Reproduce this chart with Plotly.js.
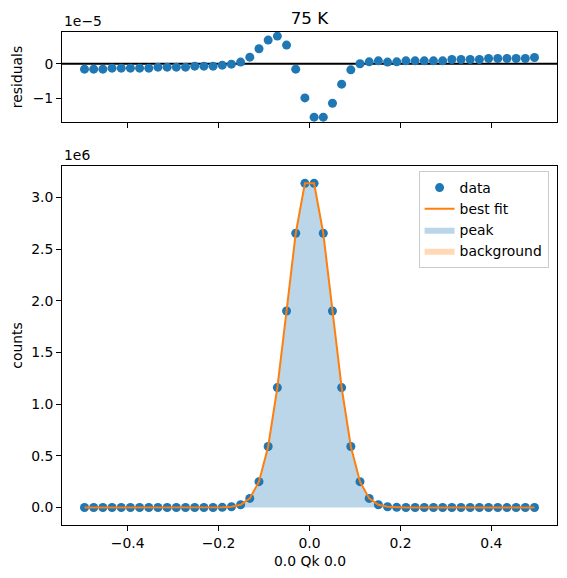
<!DOCTYPE html>
<html>
<head>
<meta charset="utf-8">
<script src="https://cdn.plot.ly/plotly-3.0.1.min.js"></script>
<style>html,body{margin:0;padding:0;background:#fff;}#chart{width:567px;height:578px;}</style>
</head>
<body>
<div id="chart"></div>
<script>
// Qk positions (0.0 Qk 0.0)
const qk = [-0.4949,-0.4747,-0.4545,-0.4343,-0.4141,-0.3939,-0.3737,-0.3535,-0.3333,-0.3131,
            -0.2929,-0.2727,-0.2525,-0.2323,-0.2121,-0.1919,-0.1717,-0.1515,-0.1313,-0.1111,
            -0.0909,-0.0707,-0.0505,-0.0303,-0.0101, 0.0101, 0.0303, 0.0505, 0.0707, 0.0909,
             0.1111, 0.1313, 0.1515, 0.1717, 0.1919, 0.2121, 0.2323, 0.2525, 0.2727, 0.2929,
             0.3131, 0.3333, 0.3535, 0.3737, 0.3939, 0.4141, 0.4343, 0.4545, 0.4747, 0.4949];

// measured counts
const counts = [0,0,0,0,0,0,0,0,0,0,
                0,0,0,100,400,1800,7500,27000,88000,250000,
                590000,1160000,1900000,2652000,3135000,3135000,2652000,1900000,1160000,590000,
                250000,88000,27000,7500,1800,400,100,0,0,0,
                0,0,0,0,0,0,0,0,0,0];

// best fit curve
const bestFit = [0,0,0,0,0,0,0,0,0,0,
                 0,0,0,100,400,1800,7500,27000,88000,250000,
                 590000,1160000,1900000,2652000,3135000,3135000,2652000,1900000,1160000,590000,
                 250000,88000,27000,7500,1800,400,100,0,0,0,
                 0,0,0,0,0,0,0,0,0,0];

// peak component
const peak = [0,0,0,0,0,0,0,0,0,0,
              0,0,0,100,400,1800,7500,27000,88000,250000,
              590000,1160000,1900000,2652000,3135000,3135000,2652000,1900000,1160000,590000,
              250000,88000,27000,7500,1800,400,100,0,0,0,
              0,0,0,0,0,0,0,0,0,0];

// background component
const background = [0,0,0,0,0,0,0,0,0,0,
                    0,0,0,0,0,0,0,0,0,0,
                    0,0,0,0,0,0,0,0,0,0,
                    0,0,0,0,0,0,0,0,0,0,
                    0,0,0,0,0,0,0,0,0,0];

// residuals
const residuals = [-1.55e-6,-1.55e-6,-1.55e-6,-1.26e-6,-1.26e-6,-1.26e-6,-1.26e-6,-1.26e-6,-0.97e-6,-0.97e-6,
                   -0.97e-6,-0.97e-6,-0.68e-6,-0.68e-6,-0.68e-6,-0.39e-6,-0.10e-6,0.49e-6,1.94e-6,4.37e-6,
                   6.89e-6,8.06e-6,5.44e-6,-1.55e-6,-9.90e-6,-15.5e-6,-15.5e-6,-11.46e-6,-5.92e-6,-1.75e-6,
                   0.0,0.58e-6,0.87e-6,0.49e-6,0.58e-6,0.87e-6,0.87e-6,0.87e-6,0.87e-6,0.87e-6,
                   1.26e-6,1.26e-6,1.26e-6,1.26e-6,1.55e-6,1.55e-6,1.55e-6,1.55e-6,1.55e-6,1.84e-6];

const xTickVals = [-0.4,-0.2,0,0.2,0.4];
const xTickText = ['\u22120.4','\u22120.2','0.0','0.2','0.4'];
const countTickVals = [0,500000,1000000,1500000,2000000,2500000,3000000];
const countTickText = ['0.0','0.5','1.0','1.5','2.0','2.5','3.0'];
const residTickVals = [-1e-5, 0];
const residTickText = ['\u22121','0'];

const BLUE = '#1f77b4', ORANGE = '#ff7f0e';
const FONT = 'DejaVu Sans, Liberation Sans, sans-serif';

const traces = [
  {x: qk, y: peak, type: 'scatter', mode: 'lines', fill: 'tozeroy',
   fillcolor: 'rgba(31,119,180,0.3)', line: {width: 0, color: 'rgba(31,119,180,0.3)'},
   name: 'peak', legendrank: 3, xaxis: 'x', yaxis: 'y', hoverinfo: 'skip'},
  {x: qk, y: background, type: 'scatter', mode: 'lines', fill: 'tozeroy',
   fillcolor: 'rgba(255,127,14,0.3)', line: {width: 0, color: 'rgba(255,127,14,0.3)'},
   name: 'background', legendrank: 4, xaxis: 'x', yaxis: 'y', hoverinfo: 'skip'},
  {x: qk, y: counts, type: 'scatter', mode: 'markers',
   marker: {color: BLUE, size: 9}, name: 'data', legendrank: 1, xaxis: 'x', yaxis: 'y'},
  {x: qk, y: bestFit, type: 'scatter', mode: 'lines',
   line: {color: ORANGE, width: 2}, name: 'best fit', legendrank: 2, xaxis: 'x', yaxis: 'y'},
  {x: qk, y: residuals, type: 'scatter', mode: 'markers',
   marker: {color: BLUE, size: 9}, showlegend: false, xaxis: 'x2', yaxis: 'y2'}
];

const axisCommon = {
  showline: true, linecolor: 'black', linewidth: 1, mirror: true,
  ticks: 'outside', ticklen: 5, tickwidth: 1, tickcolor: 'black',
  showgrid: false, zeroline: false,
  tickfont: {family: FONT, size: 13.9, color: 'black'}
};

const layout = {
  width: 567, height: 578,
  margin: {l: 62, r: 10, t: 32, b: 53},
  paper_bgcolor: 'white', plot_bgcolor: 'white',
  font: {family: FONT, size: 13.9, color: 'black'},
  title: {text: '75 K', font: {family: FONT, size: 16.7, color: 'black'},
          x: 0.5, xref: 'paper', y: 1 - 18/578, yref: 'container', yanchor: 'middle'},
  showlegend: true,
  legend: {x: 0.983, xanchor: 'right', y: 0.718, yanchor: 'top',
           bgcolor: 'rgba(255,255,255,0.8)', bordercolor: '#cccccc', borderwidth: 1,
           font: {family: FONT, size: 13.9, color: 'black'}, tracegroupgap: 0},
  xaxis: Object.assign({}, axisCommon, {anchor: 'y', domain: [0, 1], range: [-0.5444, 0.5444],
           tickmode: 'array', tickvals: xTickVals, ticktext: xTickText}),
  yaxis: Object.assign({}, axisCommon, {anchor: 'x', domain: [0, 0.7276], range: [-0.169e6, 3.30e6],
           tickmode: 'array', tickvals: countTickVals, ticktext: countTickText}),
  xaxis2: Object.assign({}, axisCommon, {anchor: 'y2', domain: [0, 1], range: [-0.5444, 0.5444],
           matches: 'x', showticklabels: false, tickmode: 'array', tickvals: xTickVals}),
  yaxis2: Object.assign({}, axisCommon, {anchor: 'x2', domain: [0.8168, 1], range: [-1.70e-5, 0.924e-5],
           tickmode: 'array', tickvals: residTickVals, ticktext: residTickText}),
  shapes: [
    {type: 'line', xref: 'x2 domain', x0: 0, x1: 1, yref: 'y2', y0: 0, y1: 0,
     line: {color: 'black', width: 2}, layer: 'below'}
  ],
  annotations: [
    {text: '1e\u22125', xref: 'paper', x: 0, xanchor: 'left', yref: 'paper', y: 1, yanchor: 'bottom',
     yshift: 1, showarrow: false, font: {family: FONT, size: 13.9, color: 'black'}},
    {text: '1e6', xref: 'paper', x: 0, xanchor: 'left', yref: 'paper', y: 0.7276, yanchor: 'bottom',
     yshift: 1, showarrow: false, font: {family: FONT, size: 13.9, color: 'black'}},
    {text: 'residuals', xref: 'paper', x: 0, xanchor: 'center', xshift: -45,
     yref: 'paper', y: (1 + 0.8168) / 2, yanchor: 'middle', textangle: -90, showarrow: false,
     font: {family: FONT, size: 13.9, color: 'black'}},
    {text: 'counts', xref: 'paper', x: 0, xanchor: 'center', xshift: -45,
     yref: 'paper', y: 0.7276 / 2, yanchor: 'middle', textangle: -90, showarrow: false,
     font: {family: FONT, size: 13.9, color: 'black'}},
    {text: '0.0 Qk 0.0', xref: 'paper', x: 0.5, xanchor: 'center',
     yref: 'paper', y: 0, yanchor: 'middle', yshift: -36, showarrow: false,
     font: {family: FONT, size: 13.9, color: 'black'}}
  ]
};

Plotly.newPlot('chart', traces, layout, {displayModeBar: false, staticPlot: true});
</script>
</body>
</html>
